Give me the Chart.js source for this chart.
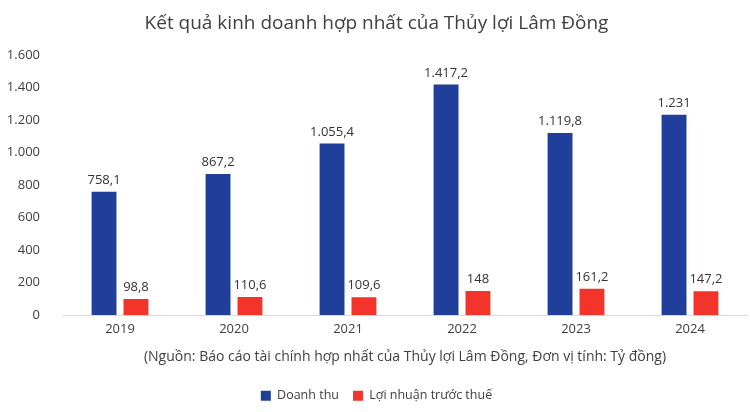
<!DOCTYPE html>
<html>
<head>
<meta charset="utf-8">
<script src="https://cdn.jsdelivr.net/npm/chart.js@4"></script>
<style>
  html, body { margin: 0; padding: 0; background: #fff; }
  #wrap { width: 750px; height: 412px; }
</style>
</head>
<body>
<div id="wrap"><canvas id="kqkdChart"></canvas></div>
<script>
// data
const years = ['2019', '2020', '2021', '2022', '2023', '2024'];
const doanhThu = [758.1, 867.2, 1055.4, 1417.2, 1119.8, 1231];
const loiNhuan = [98.8, 110.6, 109.6, 148, 161.2, 147.2];
const yTicks = [0, 200, 400, 600, 800, 1000, 1200, 1400, 1600];

const FONT = '"Open Sans", "Noto Sans", sans-serif';
const textColor = '#404040';

// 1417.2 -> "1.417,2"
function fmtVN(v) {
    let parts = String(v).split('.');
    let intPart = parts[0].replace(/\B(?=(\d{3})+(?!\d))/g, '.');
    return parts.length > 1 ? intPart + ',' + parts[1] : intPart;
}

// simple value labels above each bar
const barLabels = {
    id: 'barLabels',
    afterDatasetsDraw(chart) {
        const ctx = chart.ctx;
        ctx.save();
        ctx.font = '13px ' + FONT;
        ctx.fillStyle = '#333';
        ctx.textAlign = 'center';
        ctx.textBaseline = 'bottom';
        chart.data.datasets.forEach((ds, i) => {
            chart.getDatasetMeta(i).data.forEach((bar, j) => {
                ctx.fillText(fmtVN(ds.data[j]), bar.x, bar.y - 5);
            });
        });
        ctx.restore();
    }
};

var canvasElement = document.getElementById('kqkdChart');

var config = {
    type: 'bar',
    data: {
        labels: years,
        datasets: [{
            label: 'Doanh thu',
            data: doanhThu,
            backgroundColor: '#1f3f9b'
        }, {
            label: 'Lợi nhuận trước thuế',
            data: loiNhuan,
            backgroundColor: '#f2342a'
        }]
    },
    options: {
        responsive: true,
        maintainAspectRatio: false,
        animation: false,
        categoryPercentage: 0.56,
        barPercentage: 0.78,
        layout: { padding: { left: 6, right: 3, top: 12, bottom: 0 } },
        plugins: {
            title: {
                display: true,
                text: 'Kết quả kinh doanh hợp nhất của Thủy lợi Lâm Đồng',
                color: textColor,
                font: { family: FONT, size: 19, weight: 'normal' },
                padding: { top: 0, bottom: 20 }
            },
            legend: {
                position: 'bottom',
                labels: {
                    color: textColor,
                    font: { family: FONT, size: 12.5 },
                    boxWidth: 10,
                    boxHeight: 10,
                    padding: 14
                }
            },
            tooltip: { enabled: false }
        },
        scales: {
            x: {
                grid: { display: false, drawTicks: false },
                border: { color: '#d9d9d9', width: 1 },
                ticks: { color: textColor, font: { family: FONT, size: 13 }, padding: 6 },
                title: {
                    display: true,
                    text: '(Nguồn: Báo cáo tài chính hợp nhất của Thủy lợi Lâm Đồng, Đơn vị tính: Tỷ đồng)',
                    color: textColor,
                    font: { family: FONT, size: 14 },
                    padding: { top: 6, bottom: 10 }
                }
            },
            y: {
                min: 0,
                max: 1600,
                afterBuildTicks(axis) {
                    axis.ticks = yTicks.map(v => ({ value: v }));
                },
                afterFit(axis) {
                    axis.width = 57;
                },
                grid: { display: false, drawTicks: false },
                border: { display: false },
                ticks: {
                    color: textColor,
                    font: { family: FONT, size: 13 },
                    padding: 23,
                    callback: v => fmtVN(v)
                }
            }
        }
    },
    plugins: [barLabels]
};

var kqkdChart = new Chart(canvasElement, config);
</script>
</body>
</html>
